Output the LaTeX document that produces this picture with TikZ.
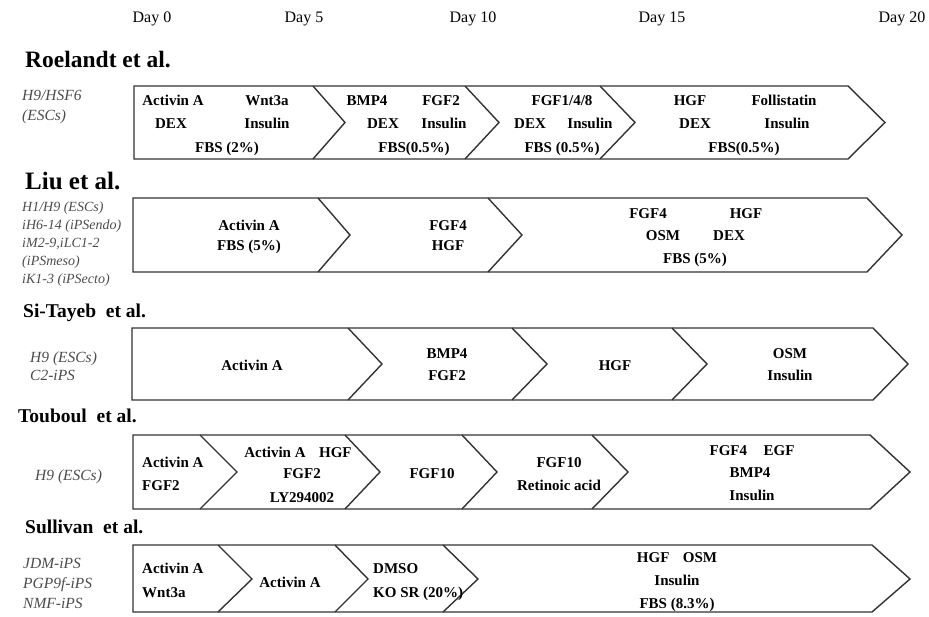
\documentclass[tikz,border=0pt]{standalone}
\usepackage{fontspec}
\setmainfont{Liberation Serif}
\begin{document}
\begin{tikzpicture}[x=1pt,y=-1pt,
  box/.style={draw=black!80,line width=1.4pt,line join=miter},
  txt/.style={font=\fontsize{15}{18}\selectfont\bfseries,inner sep=0pt,text height=10.4pt,text depth=0pt,anchor=center},
  ltxt/.style={txt,anchor=west},
  day/.style={font=\fontsize{16}{19}\selectfont,inner sep=0pt,text height=10.8pt,text depth=0pt},
  ttl/.style={inner sep=0pt,anchor=base west},
  lab/.style={font=\fontsize{15.5}{18}\selectfont\itshape,text=black!70,inner sep=0pt,anchor=west,text height=10.5pt,text depth=0pt},
  labs/.style={lab,font=\fontsize{14}{16}\selectfont\itshape}]
\useasboundingbox (0,0) rectangle (929,617);

% header
\node[day] (d0) at (152,17) {Day 0};
\node[day] (d5) at (304,17) {Day 5};
\node[day] (d10) at (473,17) {Day 10};
\node[day] (d15) at (662,17) {Day 15};
\node[day] (d20) at (902,17) {Day 20};

% ===== Row 1: Roelandt
\node[ttl,font=\fontsize{23.5}{27}\selectfont\bfseries] (t1) at (25,68) {Roelandt et al.};
\node[lab] (l1a) at (22,95) {H9/HSF6};
\node[lab] (l1b) at (22,115) {(ESCs)};
\draw[box] (134,86) -- (848,86) -- (885,122.5) -- (848,159) -- (134,159) -- cycle;
\draw[box] (313,86) -- (345,122.5) -- (313,159);
\draw[box] (465,86) -- (499,122.5) -- (465,159);
\draw[box] (600,86) -- (635,122.5) -- (600,159);
\node[txt] (r1a) at (173,100) {Activin A};
\node[txt] (r1b) at (267,100) {Wnt3a};
\node[txt] (r1c) at (171,123) {DEX};
\node[txt] (r1d) at (267,123) {Insulin};
\node[txt] (r1e) at (227,147) {FBS (2\%)};
\node[txt] (r1f) at (367,100) {BMP4};
\node[txt] (r1g) at (441,100) {FGF2};
\node[txt] (r1h) at (383,123) {DEX};
\node[txt] (r1i) at (444,123) {Insulin};
\node[txt] (r1j) at (414,147) {FBS(0.5\%)};
\node[txt] (r1k) at (562,100) {FGF1/4/8};
\node[txt] (r1l) at (530,123) {DEX};
\node[txt] (r1m) at (590,123) {Insulin};
\node[txt] (r1n) at (562,147) {FBS (0.5\%)};
\node[txt] (r1o) at (690,100) {HGF};
\node[txt] (r1p) at (784,100) {Follistatin};
\node[txt] (r1q) at (695,123) {DEX};
\node[txt] (r1r) at (787,123) {Insulin};
\node[txt] (r1s) at (744,147) {FBS(0.5\%)};

% ===== Row 2: Liu
\node[ttl,font=\fontsize{25}{29}\selectfont\bfseries] (t2) at (25,190) {Liu et al.};
\node[labs] (l2a) at (22,206) {H1/H9 (ESCs)};
\node[labs] (l2b) at (22,224) {iH6-14 (iPSendo)};
\node[labs] (l2c) at (22,242) {iM2-9,iLC1-2};
\node[labs] (l2d) at (22,260) {(iPSmeso)};
\node[labs] (l2e) at (22,278) {iK1-3 (iPSecto)};
\draw[box] (133,198) -- (867,198) -- (902,235) -- (867,272) -- (133,272) -- cycle;
\draw[box] (318,198) -- (350,235) -- (318,272);
\draw[box] (488,198) -- (522,235) -- (488,272);
\node[txt] (r2a) at (249,225) {Activin A};
\node[txt] (r2b) at (249,245) {FBS (5\%)};
\node[txt] (r2c) at (448,225) {FGF4};
\node[txt] (r2d) at (448,245) {HGF};
\node[txt] (r2e) at (648,213) {FGF4};
\node[txt] (r2f) at (746,213) {HGF};
\node[txt] (r2g) at (663,235) {OSM};
\node[txt] (r2h) at (729,235) {DEX};
\node[txt] (r2i) at (695,258) {FBS (5\%)};

% ===== Row 3: Si-Tayeb
\node[ttl,font=\fontsize{19.5}{23}\selectfont\bfseries] (t3) at (23,318) {Si-Tayeb\ \ et al.};
\node[lab] (l3a) at (30,357) {H9 (ESCs)};
\node[lab] (l3b) at (30,375) {C2-iPS};
\draw[box] (132,328) -- (873,328) -- (908,364) -- (873,400) -- (132,400) -- cycle;
\draw[box] (348,328) -- (382,364) -- (348,400);
\draw[box] (512,328) -- (547,364) -- (512,400);
\draw[box] (672,328) -- (707,364) -- (672,400);
\node[txt] (r3a) at (252,365) {Activin A};
\node[txt] (r3b) at (447,353) {BMP4};
\node[txt] (r3c) at (447,375) {FGF2};
\node[txt] (r3d) at (615,365) {HGF};
\node[txt] (r3e) at (790,353) {OSM};
\node[txt] (r3f) at (790,375) {Insulin};

% ===== Row 4: Touboul
\node[ttl,font=\fontsize{19.5}{23}\selectfont\bfseries] (t4) at (18,422) {Touboul\ \ et al.};
\node[lab] (l4a) at (35,475) {H9 (ESCs)};
\draw[box] (133,435) -- (870,435) -- (910,472) -- (870,509) -- (133,509) -- cycle;
\draw[box] (200,435) -- (237,472) -- (200,509);
\draw[box] (345,435) -- (380,472) -- (345,509);
\draw[box] (462,435) -- (497,472) -- (462,509);
\draw[box] (592,435) -- (628,472) -- (592,509);
\node[ltxt] (r4a) at (142,462) {Activin A};
\node[ltxt] (r4b) at (142,485) {FGF2};
\node[txt] (r4c) at (298,452) {Activin A\hspace{0.9em}HGF};
\node[txt] (r4d) at (302,473) {FGF2};
\node[txt] (r4e) at (302,497) {LY294002};
\node[txt] (r4f) at (432,473) {FGF10};
\node[txt] (r4g) at (559,462) {FGF10};
\node[txt] (r4h) at (559,485) {Retinoic acid};
\node[txt] (r4i) at (752,450) {FGF4\hspace{1.1em}EGF};
\node[txt] (r4j) at (750,472) {BMP4};
\node[txt] (r4k) at (752,495) {Insulin};

% ===== Row 5: Sullivan
\node[ttl,font=\fontsize{19.5}{23}\selectfont\bfseries] (t5) at (25,533) {Sullivan\ \ et al.};
\node[lab] (l5a) at (23,563) {JDM-iPS};
\node[lab] (l5b) at (23,583) {PGP9f-iPS};
\node[lab] (l5c) at (23,603) {NMF-iPS};
\draw[box] (133,545) -- (872,545) -- (910,579) -- (872,612) -- (133,612) -- cycle;
\draw[box] (218,545) -- (252,579) -- (218,612);
\draw[box] (335,545) -- (368,579) -- (335,612);
\draw[box] (443,545) -- (478,579) -- (443,612);
\node[ltxt] (r5a) at (142,568) {Activin A};
\node[ltxt] (r5b) at (142,592) {Wnt3a};
\node[txt] (r5c) at (290,582) {Activin A};
\node[ltxt] (r5d) at (373,568) {DMSO};
\node[ltxt] (r5e) at (373,592) {KO SR (20\%)};
\node[txt] (r5f) at (677,557) {HGF\hspace{0.9em}OSM};
\node[txt] (r5g) at (677,580) {Insulin};
\node[txt] (r5h) at (677,603) {FBS (8.3\%)};
\end{tikzpicture}
\end{document}
